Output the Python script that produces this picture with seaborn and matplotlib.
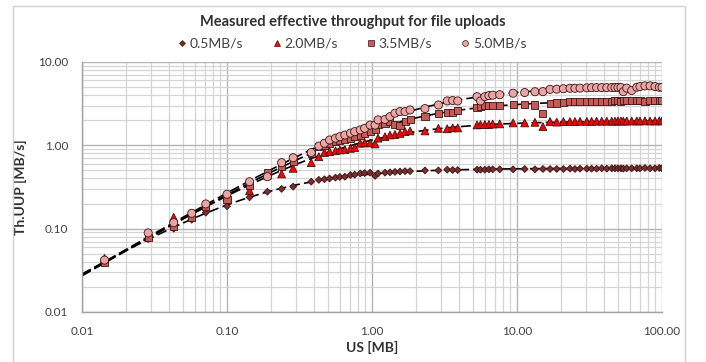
import numpy as np
import pandas as pd
import seaborn as sns
import matplotlib
matplotlib.use("Agg")
import matplotlib.pyplot as plt
from matplotlib.lines import Line2D
from matplotlib.patches import Rectangle
from matplotlib.ticker import FormatStrFormatter, LogLocator, NullFormatter

# File sizes [MB] (shared by all four upload-speed series)
sizes = [0.0143, 0.0286, 0.0429, 0.0571, 0.0714, 0.1, 0.143, 0.19, 0.238, 0.286, 0.381,
         0.43, 0.47, 0.51, 0.56, 0.60, 0.65, 0.71, 0.76, 0.83, 0.89, 0.97, 1.05, 1.10, 1.23,
         1.33, 1.44, 1.56, 1.69, 1.83, 2.32, 2.87, 3.3, 3.6, 3.9, 5.3, 5.6, 6.0, 6.4, 6.8,
         7.6, 9.4, 11.3, 13.3, 15.1,
         16.9, 18.8, 20.9, 23.2, 25.1, 27.2, 30.3, 32.7, 35.4, 38.4, 41.6, 45.0, 47.4, 49.7,
         52.1, 54.1, 57.1, 61.8, 67.0, 70.5, 76.3, 82.7, 89.5, 95.8, 100.0]

# Measured throughput [MB/s]
thr_05 = [0.040, 0.075, 0.100, 0.128, 0.156, 0.186, 0.238, 0.278, 0.300, 0.320, 0.366,
          0.385, 0.392, 0.400, 0.410, 0.417, 0.420, 0.440, 0.445, 0.460, 0.465, 0.470, 0.430, 0.460, 0.470,
          0.475, 0.480, 0.485, 0.490, 0.490, 0.500, 0.500, 0.510, 0.505, 0.505, 0.510, 0.510, 0.510, 0.515, 0.515,
          0.515, 0.515, 0.520, 0.515, 0.520,
          0.520, 0.520, 0.520, 0.525, 0.520, 0.525, 0.525, 0.525, 0.525, 0.530, 0.525, 0.530, 0.530, 0.530,
          0.530, 0.525, 0.530, 0.530, 0.530, 0.530, 0.535, 0.530, 0.530, 0.535, 0.530]
thr_20 = [0.044, 0.082, 0.137, 0.140, 0.190, 0.240, 0.286, 0.440, 0.454, 0.530, 0.620,
          0.73, 0.82, 0.84, 0.86, 0.88, 0.89, 0.92, 0.94, 1.06, 1.07, 1.07, 1.04, 1.22, 1.27,
          1.33, 1.35, 1.39, 1.46, 1.49, 1.49, 1.60, 1.58, 1.62, 1.62, 1.76, 1.77, 1.78, 1.78, 1.80,
          1.81, 1.86, 1.86, 1.89, 1.68,
          1.93, 1.90, 1.93, 1.93, 1.93, 1.94, 1.94, 1.94, 1.95, 1.95, 1.95, 1.95, 1.95, 1.96,
          1.96, 1.95, 1.96, 1.96, 1.96, 1.96, 1.97, 1.96, 1.96, 1.97, 1.96]
thr_35 = [0.039, 0.079, 0.106, 0.137, 0.187, 0.225, 0.326, 0.475, 0.555, 0.640, 0.800,
          0.96, 1.01, 1.06, 1.11, 1.16, 1.18, 1.22, 1.27, 1.33, 1.40, 1.46, 1.53, 1.76, 1.84,
          1.93, 1.79, 1.75, 1.93, 2.02, 2.21, 2.43, 2.45, 2.45, 2.61, 2.85, 2.90, 2.97, 2.97, 2.97,
          3.02, 3.11, 3.12, 3.05, 2.43,
          3.20, 3.22, 3.28, 3.35, 3.35, 3.36, 3.38, 3.38, 3.40, 3.40, 3.40, 3.40, 3.42, 3.42,
          3.40, 3.42, 3.42, 3.44, 3.44, 3.45, 3.40, 3.45, 3.45, 3.45, 3.45]
thr_50 = [0.042, 0.089, 0.118, 0.153, 0.198, 0.259, 0.366, 0.420, 0.620, 0.710, 0.820,
          0.98, 1.06, 1.16, 1.22, 1.27, 1.33, 1.40, 1.46, 1.53, 1.60, 1.75, 1.75, 2.02, 2.05,
          2.21, 2.43, 2.54, 2.54, 2.66, 2.76, 3.05, 3.41, 3.45, 3.41, 3.84, 3.41, 3.84, 3.95, 4.00,
          4.05, 4.22, 4.30, 4.40, 4.41,
          4.70, 4.72, 4.78, 4.84, 4.84, 4.86, 4.90, 4.92, 4.93, 4.93, 4.93, 4.94, 4.93, 4.95,
          4.94, 4.41, 4.86, 4.55, 4.98, 5.07, 5.17, 5.17, 5.07, 4.98, 4.98]

labels = ["0.5MB/s", "2.0MB/s", "3.5MB/s", "5.0MB/s"]
series = [thr_05, thr_20, thr_35, thr_50]

palette = {"0.5MB/s": "#7a2e2e", "2.0MB/s": "#ff0000", "3.5MB/s": "#c65a58", "5.0MB/s": "#eaa6a4"}
markers = {"0.5MB/s": "D", "2.0MB/s": "^", "3.5MB/s": "s", "5.0MB/s": "o"}
msizes = {"0.5MB/s": 12, "2.0MB/s": 32, "3.5MB/s": 26, "5.0MB/s": 34}

df = pd.concat([pd.DataFrame({"size": sizes, "thr": y, "series": lab})
                for lab, y in zip(labels, series)], ignore_index=True)

sns.set_style("white")
plt.rcParams["font.family"] = ["Lato", "DejaVu Sans"]

fig = plt.figure(figsize=(7.06, 3.62), dpi=100)
ax = fig.add_axes([82 / 706, 1 - 312 / 362, 580 / 706, 250 / 362])

# trend lines: T = S / (L + S/B), least squares on 1/T vs 1/S
xs = np.logspace(-2, 2, 300)
for lab, y in zip(labels, series):
    s = np.array(sizes)
    t = np.array(y)
    L, invB = np.polyfit(1 / s, 1 / t, 1, w=t)
    ax.plot(xs, xs / (L + xs * invB), color="black", lw=1.2,
            ls=(0, (6, 2.5)), zorder=2)

sns.scatterplot(data=df, x="size", y="thr", hue="series", style="series",
                size="series", sizes=msizes, markers=markers, palette=palette,
                edgecolor="#3a1515", linewidth=0.6, legend=False, ax=ax, zorder=3)

ax.set_xscale("log")
ax.set_yscale("log")
ax.set_xlim(0.01, 100)
ax.set_ylim(0.01, 10)
for axis in (ax.xaxis, ax.yaxis):
    axis.set_major_formatter(FormatStrFormatter("%.2f"))
    axis.set_minor_locator(LogLocator(base=10, subs=np.arange(2, 10)))
    axis.set_minor_formatter(NullFormatter())
ax.grid(True, which="major", color="#b4b4b4", lw=1.0)
ax.grid(True, which="minor", color="#d4d4d4", lw=0.9)
ax.set_axisbelow(True)
ax.tick_params(which="both", length=0, labelsize=8.5, colors="#404040")
ax.tick_params(axis="y", pad=10)
ax.tick_params(axis="x", pad=10)
for side in ("top", "right"):
    ax.spines[side].set_visible(False)
for side in ("left", "bottom"):
    ax.spines[side].set_color("#a0a0a0")
    ax.spines[side].set_linewidth(1.0)

ax.set_xlabel("US [MB]", fontsize=10, fontweight="bold", color="#303030", labelpad=3)
ax.set_ylabel("Th.UUP [MB/s]", fontsize=10, fontweight="bold", color="#303030", labelpad=8)

fig.text(0.5, 1 - 22 / 362, "Measured effective throughput for file uploads",
         ha="center", va="center", fontsize=10.5, fontweight="bold", color="#303030")

handles = [Line2D([], [], ls="none", marker=markers[l], markerfacecolor=palette[l],
                  markeredgecolor="#3a1515", markeredgewidth=0.5,
                  markersize=3 if l == "0.5MB/s" else 4.2) for l in labels]
fig.legend(handles, labels, loc="center", bbox_to_anchor=(0.497, 1 - 44 / 362), ncol=4,
           frameon=False, fontsize=10, handletextpad=0.05, columnspacing=1.9,
           handlelength=1.0, labelcolor="#404040")

fig.patches.append(Rectangle((13 / 706, -0.01), 672 / 706, 1.01 - 6 / 362,
                             transform=fig.transFigure, fill=False,
                             edgecolor="#d0d0d0", lw=1.0))

fig.savefig("out.png", dpi=100)
